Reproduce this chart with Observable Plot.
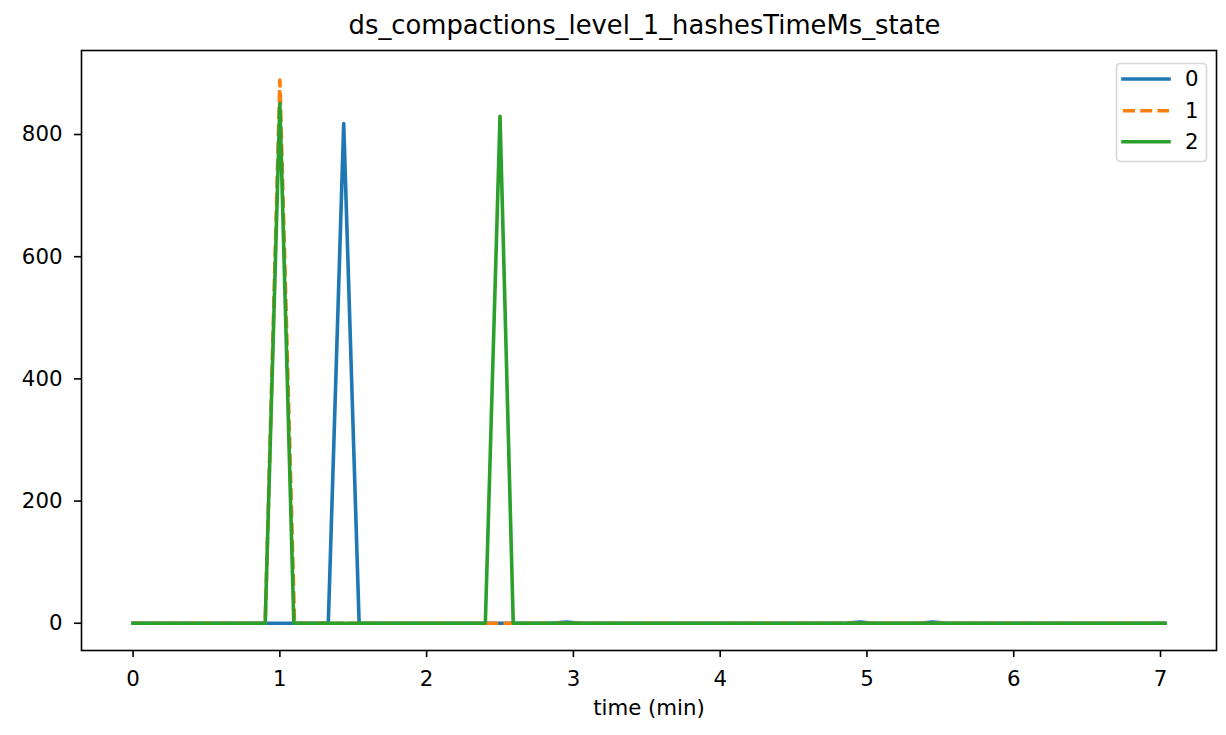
<!DOCTYPE html>
<html>
<head>
<meta charset="utf-8">
<script src="https://cdn.jsdelivr.net/npm/d3@7"></script>
<script src="https://cdn.jsdelivr.net/npm/@observablehq/plot@0.6"></script>
<style>
  html, body { margin: 0; padding: 0; background: #fff; }
  #wrap { position: relative; width: 1226px; height: 735px; overflow: hidden; font-family: "DejaVu Sans", sans-serif; color: #000; }
  #title { position: absolute; top: 13px; left: 81px; width: 1127px; text-align: center; font-size: 25.8px; line-height: 1; white-space: nowrap; }
  #chart { position: absolute; top: 40px; left: 0; }
  #legend { position: absolute; top: 0; left: 0; pointer-events: none; }
</style>
</head>
<body>
<div id="wrap">
  <div id="title">ds_compactions_level_1_hashesTimeMs_state</div>
  <div id="chart"></div>
  <svg id="legend" width="1226" height="735"></svg>
</div>
<script>
// ---- data ----
const seriesNames = ["0", "1", "2"];
const seriesColors = ["#1f77b4", "#ff7f0e", "#2ca02c"];
const seriesDash = [null, "12,5.2", null];

const t0 = [0, 1.33, 1.435, 1.54, 2.85, 2.95, 3.05, 4.85, 4.95, 5.05, 5.35, 5.45, 5.55, 7.03];
const v0 = [0, 0, 818, 0, 0, 2, 0, 0, 2, 0, 0, 2, 0, 0];
const t1 = [0, 0.9, 1.0, 1.1, 7.03];
const v1 = [0, 0, 889, 0, 0];
const t2 = [0, 0.9, 1.0, 1.095, 2.4, 2.5, 2.59, 7.03];
const v2 = [0, 0, 851, 0, 0, 830, 0, 0];

const xTicks = [0, 1, 2, 3, 4, 5, 6, 7];
const yTicks = [0, 200, 400, 600, 800];
const xDomain = [-0.3515, 7.3815];
const yDomain = [-44.6, 937.5];

const times = [t0, t1, t2];
const values = [v0, v1, v2];
const rows = times.map((ts, i) => ts.map((t, j) => ({t, v: values[i][j], s: seriesNames[i]})));

const FS = 21.3;
const LW = 3.6;

const chart = Plot.plot({
  width: 1226,
  height: 695,
  marginLeft: 81,
  marginRight: 10,
  marginTop: 10,
  marginBottom: 85,
  style: {fontFamily: "DejaVu Sans, sans-serif", color: "#000", background: "transparent", overflow: "visible"},
  x: {domain: xDomain},
  y: {domain: yDomain},
  marks: [
    ...rows.map((r, i) => Plot.line(r, {
      x: "t", y: "v",
      stroke: seriesColors[i],
      strokeWidth: LW,
      strokeLinejoin: "round",
      strokeLinecap: seriesDash[i] ? "butt" : "square",
      strokeDasharray: seriesDash[i] || undefined
    })),
    Plot.frame({stroke: "#000", strokeWidth: 1.6}),
    Plot.axisX({ticks: xTicks, tickFormat: d => String(d), tickSize: 7, tickPadding: 13, fontSize: FS, strokeWidth: 1.6, label: null}),
    Plot.axisY({ticks: yTicks, tickFormat: d => String(d), tickSize: 7, tickPadding: 12, fontSize: FS, strokeWidth: 1.6, label: null}),
    Plot.text(["time (min)"], {frameAnchor: "bottom", dy: 58, fontSize: FS, lineAnchor: "middle", fill: "#000"})
  ]
});
document.getElementById("chart").appendChild(chart);

// ---- legend ----
const lg = d3.select("#legend");
lg.append("rect")
  .attr("x", 1116.5).attr("y", 63.5).attr("width", 90).attr("height", 98)
  .attr("rx", 4).attr("fill", "rgba(255,255,255,0.8)")
  .attr("stroke", "#d6d6d6").attr("stroke-width", 1.6);
const legendY = [79, 110.7, 141.7];
seriesNames.forEach((name, i) => {
  lg.append("line")
    .attr("x1", 1123).attr("x2", 1169)
    .attr("y1", legendY[i]).attr("y2", legendY[i])
    .attr("stroke", seriesColors[i]).attr("stroke-width", LW)
    .attr("stroke-linecap", seriesDash[i] ? "butt" : "square")
    .attr("stroke-dasharray", seriesDash[i] || null);
  lg.append("text")
    .attr("x", 1185).attr("y", legendY[i]).attr("dy", "0.35em")
    .attr("font-family", "DejaVu Sans, sans-serif").attr("font-size", FS)
    .attr("fill", "#000")
    .text(name);
});
</script>
</body>
</html>
